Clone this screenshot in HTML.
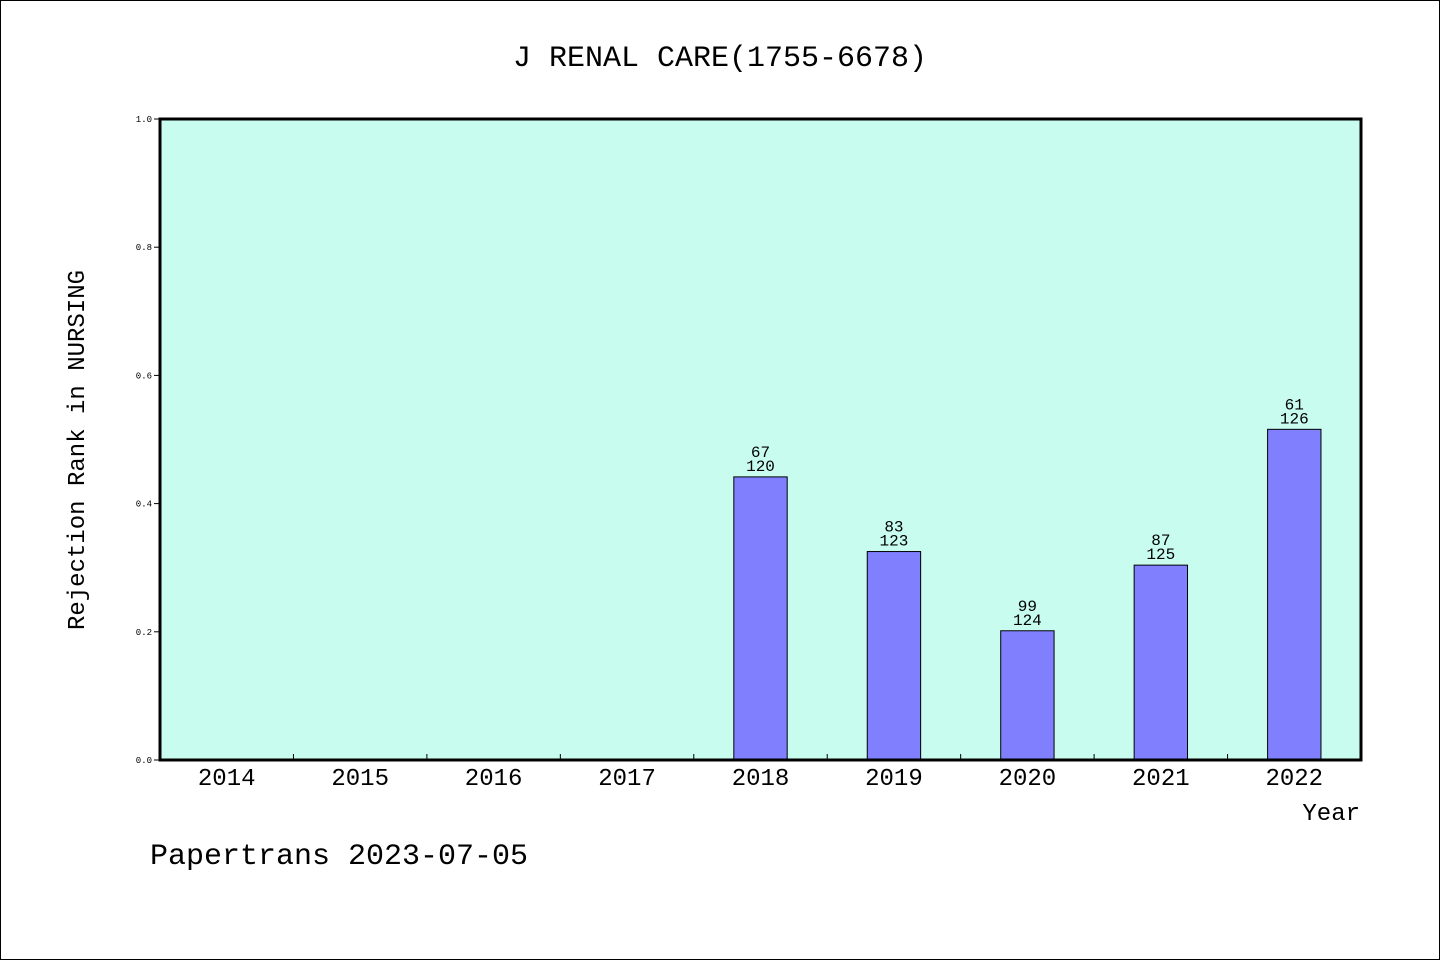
<!DOCTYPE html>
<html><head><meta charset="utf-8"><style>
body{margin:0;background:#fff}
svg text{font-family:"WenQuanYi Zen Hei","Liberation Mono",monospace}
</style></head><body>
<svg width="1440" height="960">
<rect x="0.5" y="0.5" width="1439" height="959" fill="#fff" stroke="#000"/>
<text x="720" y="66" font-size="30" text-anchor="middle">J RENAL CARE(1755-6678)</text>
<rect x="160" y="119" width="1201" height="641" fill="#c8fcee"/>
<g id="bars"></g>
<g id="axes"></g>
<rect x="160" y="119" width="1201" height="641" fill="none" stroke="#000" stroke-width="3"/>
<text transform="translate(84,450) rotate(-90)" font-size="24" text-anchor="middle">Rejection Rank in NURSING</text>
<text x="1360" y="820" font-size="24" text-anchor="end">Year</text>
<text x="150" y="864" font-size="30">Papertrans 2023-07-05</text>
</svg>
<script>
const categories=["2014","2015","2016","2017","2018","2019","2020","2021","2022"];
const ranks=[null,null,null,null,67,83,99,87,61];
const totals=[null,null,null,null,120,123,124,125,126];
const yTicks=[0,0.2,0.4,0.6,0.8,1.0];
const X0=160,W=1201,Y0=760,H=641,NS="http://www.w3.org/2000/svg";
const step=W/categories.length;
const xc=i=>X0+(i+0.5)*step;
const y=v=>Y0-v*H;
function mk(t,a,p){const e=document.createElementNS(NS,t);for(const k in a)e.setAttribute(k,a[k]);p.appendChild(e);return e;}
const bars=document.getElementById('bars'),axes=document.getElementById('axes');
categories.forEach((c,i)=>{
  const t=mk('text',{x:xc(i),y:Y0+25,'font-size':24,'text-anchor':'middle'},axes);t.textContent=c;
  
  
  if(i>0){const l=mk('line',{x1:X0+i*step,x2:X0+i*step,y1:Y0,y2:Y0-6,stroke:'#000'},axes);
  
  }
  if(ranks[i]==null)return;
  const v=1-ranks[i]/totals[i],bw=step*0.4;
  const r=mk('rect',{x:xc(i)-bw/2,y:y(v),width:bw,height:Y0-y(v),fill:'#8080ff',stroke:'#000','stroke-width':1},bars);
  
  
  const t1=mk('text',{x:xc(i),y:y(v)-20,'font-size':16,'text-anchor':'middle'},bars);t1.textContent=ranks[i];
  
  
  const t2=mk('text',{x:xc(i),y:y(v)-6,'font-size':16,'text-anchor':'middle'},bars);t2.textContent=totals[i];
  
  
});
yTicks.forEach(v=>{
  const t=mk('text',{x:152,y:y(v)+3,'font-size':9,'text-anchor':'end','font-family':'Liberation Sans'},axes);t.textContent=v.toFixed(1);
  
  
  const l=mk('line',{x1:X0-6,x2:X0,y1:y(v),y2:y(v),stroke:'#000'},axes);
  
  
});
</script>
</body></html>
